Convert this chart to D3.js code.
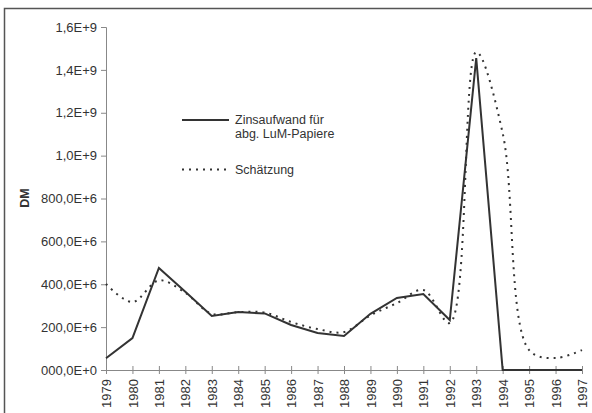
<!DOCTYPE html>
<html><head><meta charset="utf-8">
<script src="https://cdn.jsdelivr.net/npm/d3@7"></script>
<style>body{margin:0;background:#fff}svg{display:block}</style>
</head><body>
<svg id="c" width="592" height="413"></svg>
<script>
const years = [1979,1980,1981,1982,1983,1984,1985,1986,1987,1988,1989,1990,1991,1992,1993,1994,1995,1996,1997];
const zinsaufwand = [55e6,149e6,476e6,365e6,252e6,270e6,264e6,210e6,173e6,159e6,262e6,336e6,354e6,233e6,1455e6,0,0,0,0];
const schaetzung = [401e6,317e6,418e6,360e6,262e6,270e6,268e6,224e6,191e6,177e6,255e6,312e6,373e6,219e6,1483e6,1105e6,93e6,56e6,93e6];
const yTicks = [0,200e6,400e6,600e6,800e6,1.0e9,1.2e9,1.4e9,1.6e9];
const yTickLabels = ["000,0E+0","200,0E+6","400,0E+6","600,0E+6","800,0E+6","1,0E+9","1,2E+9","1,4E+9","1,6E+9"];
const legendLabels = [["Zinsaufwand für","abg. LuM-Papiere"],["Schätzung"]];
const yTitle = "DM";

const svg = d3.select("#c");
const font = "'Liberation Sans', Arial, sans-serif";
svg.append("rect").attr("x",4.5).attr("y",8.5).attr("width",600).attr("height",420)
  .attr("fill","none").attr("stroke","#555").attr("stroke-width",1.5);

const x = d3.scaleLinear().domain([1979,1997]).range([106,582]);
const y = d3.scaleLinear().domain([0,1.6e9]).range([370,27]);

const g = svg.append("g");
// y axis
const yAxis = d3.axisLeft(y).tickValues(yTicks).tickSize(5).tickPadding(4)
  .tickFormat((d,i)=>yTickLabels[i]);
const ya = g.append("g").attr("transform","translate(106,0)").call(yAxis);
ya.select(".domain").attr("stroke","#888");
ya.selectAll(".tick line").attr("stroke","#888");
ya.selectAll("text").attr("font-family",font).attr("font-size","13px").attr("fill","#333");

// x axis
const xAxis = d3.axisBottom(x).tickValues(years).tickSize(0).tickFormat(d=>d);
const xa = g.append("g").attr("transform","translate(0,370)").call(xAxis);
xa.select(".domain").attr("stroke","#888");
xa.selectAll(".tick line").attr("y1",-4).attr("y2",4).attr("stroke","#888");
xa.selectAll("text").attr("font-family",font).attr("font-size","13px").attr("fill","#333")
  .attr("text-anchor","end").attr("transform","rotate(-90)").attr("x",-9).attr("y",0).attr("dy","0.35em");

// y title
svg.append("text").attr("transform","translate(25,198) rotate(-90)").attr("text-anchor","middle")
  .attr("dy","0.35em").attr("font-family",font).attr("font-weight","bold").attr("font-size","12.5px")
  .attr("fill","#333").text(yTitle);

// lines
const lineS = d3.line().x((d,i)=>x(years[i])).y(d=>y(d));
const lineD = d3.line().x((d,i)=>x(years[i])).y(d=>y(d)).curve(d3.curveCatmullRom.alpha(0.5));
svg.append("path").attr("d",lineD(schaetzung)).attr("fill","none").attr("stroke","#333")
  .attr("stroke-width",2).attr("stroke-dasharray","2,5");
svg.append("path").attr("d",lineS(zinsaufwand)).attr("fill","none").attr("stroke","#333")
  .attr("stroke-width",2).attr("stroke-linejoin","miter");

// legend
const lg = svg.append("g");
const lfs = "12.5px";
lg.append("line").attr("x1",182).attr("x2",229).attr("y1",120).attr("y2",120).attr("stroke","#333").attr("stroke-width",2);
lg.append("line").attr("x1",182).attr("x2",231).attr("y1",169.5).attr("y2",169.5).attr("stroke","#333").attr("stroke-width",2).attr("stroke-dasharray","2,5");
const t1 = lg.append("text").attr("x",235).attr("y",120).attr("font-family",font).attr("font-size",lfs).attr("fill","#333");
legendLabels[0].forEach((s,i)=>t1.append("tspan").attr("x",235).attr("dy", i===0 ? "0.35em" : "14px").text(s));
lg.append("text").attr("x",235).attr("y",169.5).attr("dy","0.35em").attr("font-family",font).attr("font-size",lfs).attr("fill","#333").text(legendLabels[1][0]);
</script>
</body></html>
